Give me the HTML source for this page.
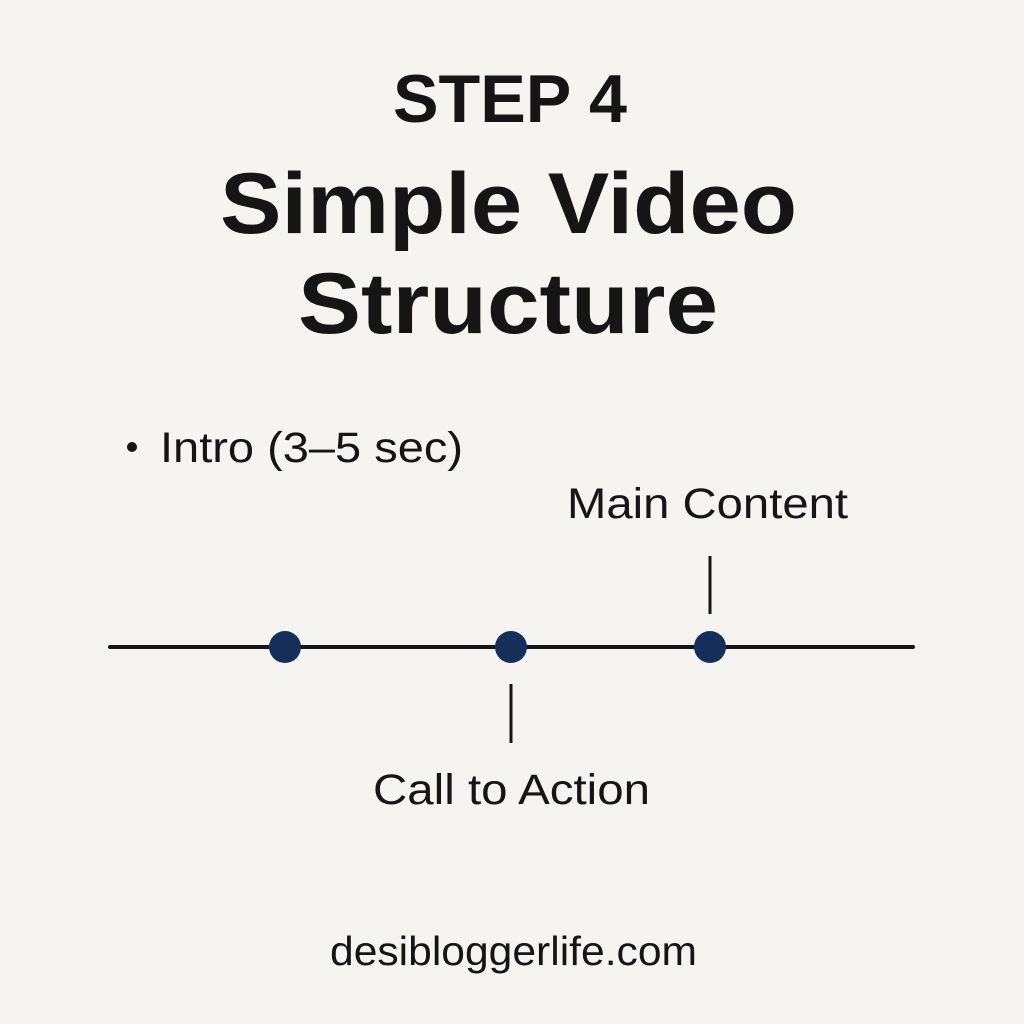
<!DOCTYPE html>
<html><head><meta charset="utf-8"><style>
html,body{margin:0;padding:0;background:#f5f4f0;}
svg{display:block}
text{font-family:"Liberation Sans","DejaVu Sans",sans-serif;fill:#151515}
</style></head><body>
<svg width="1024" height="1024" viewBox="0 0 1024 1024" xmlns="http://www.w3.org/2000/svg">
<rect width="1024" height="1024" fill="#f5f4f0"/>
<text x="393" y="122" font-size="68" font-weight="bold" textLength="234" lengthAdjust="spacingAndGlyphs">STEP 4</text>
<text x="220" y="233" font-size="86" font-weight="bold" textLength="577" lengthAdjust="spacingAndGlyphs">Simple Video</text>
<text x="298" y="333" font-size="86" font-weight="bold" textLength="420" lengthAdjust="spacingAndGlyphs">Structure</text>
<circle cx="132" cy="447" r="5" fill="#151515"/>
<text x="160" y="462" font-size="43" textLength="303" lengthAdjust="spacingAndGlyphs">Intro (3–5 sec)</text>
<text x="567" y="518" font-size="43" textLength="281" lengthAdjust="spacingAndGlyphs">Main Content</text>
<line x1="110" y1="647" x2="913" y2="647" stroke="#151515" stroke-width="4" stroke-linecap="round"/>
<line x1="710" y1="556" x2="710" y2="614" stroke="#151515" stroke-width="3"/>
<line x1="511" y1="684" x2="511" y2="743" stroke="#151515" stroke-width="3"/>
<circle cx="285" cy="647" r="16" fill="#14305a"/>
<circle cx="511" cy="647" r="16" fill="#14305a"/>
<circle cx="710" cy="647" r="16" fill="#14305a"/>
<text x="373" y="804" font-size="43" textLength="277" lengthAdjust="spacingAndGlyphs">Call to Action</text>
<text x="330" y="965" font-size="41" textLength="367" lengthAdjust="spacingAndGlyphs">desibloggerlife.com</text>
</svg>
</body></html>
